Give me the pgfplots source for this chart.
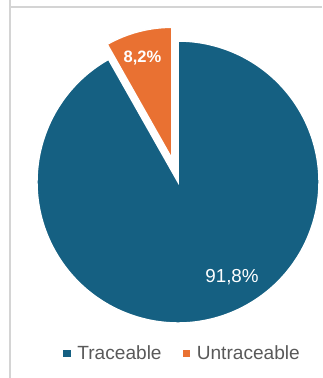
\documentclass[border=0pt]{standalone}
\usepackage{fontspec}
\setmainfont{Liberation Sans}
\usepackage{pgfplots}
\usepackage{pgfplotstable}
\pgfplotsset{compat=1.18}
\definecolor{cblue}{HTML}{156082}
\definecolor{corange}{HTML}{E97132}
\definecolor{ctext}{HTML}{595959}
\definecolor{cgrid}{HTML}{D4D4D4}
\pgfplotstableread{
label value
Traceable 91.8
Untraceable 8.2
}\pietable
\begin{document}
\begin{tikzpicture}
\pgfplotstablegetelem{0}{value}\of\pietable \let\vA\pgfplotsretval
\pgfplotstablegetelem{1}{value}\of\pietable \let\vB\pgfplotsretval
\pgfmathsetmacro{\angB}{360*\vB/(\vA+\vB)}
\pgfmathsetmacro{\endB}{90+\angB}
\begin{axis}[scale only axis, width=322pt, height=378pt,
  xmin=0, xmax=322, ymin=0, ymax=378, hide axis, clip=false,
  /pgf/number format/assume math mode=true,
  legend columns=2,
  legend style={draw=none, fill=none, font=\fontsize{19.1}{22}\selectfont, text=ctext,
    at={(axis cs:63,25)}, anchor=west, inner sep=0pt},
  legend image code/.code={\fill[#1] (0pt,-3.25pt) rectangle (6.5pt,3.25pt); \path[draw=none, fill=none] (0pt,0pt) -- (12pt,0pt);}]
\draw[cgrid, line width=2pt] (axis cs:10,0) -- (axis cs:10,378);
\draw[cgrid, line width=2pt] (axis cs:10,371) -- (axis cs:322,371);
\filldraw[fill=cblue, draw=white, line width=1.5pt] (axis cs:178,196) -- ++(\endB:141pt) arc[start angle=\endB, end angle=450, radius=141pt] -- cycle;
\filldraw[fill=corange, draw=white, line width=1.5pt] (axis cs:171.76,219.7) -- ++(90:131pt) arc[start angle=90, end angle=\endB, radius=131pt] -- cycle;
\node[anchor=base, text=white, font=\fontsize{18.8}{22}\selectfont] at (axis cs:232,95) {\pgfmathprintnumber[fixed, precision=1, use comma, assume math mode=true]{\vA}\%};
\node[anchor=base, text=white, font=\bfseries\fontsize{16.5}{20}\selectfont] at (axis cs:142.5,315) {\pgfmathprintnumber[fixed, precision=1, use comma, assume math mode=true]{\vB}\%};
\addlegendimage{cblue}
\addlegendentry{Traceable\hspace*{19pt}}
\addlegendimage{corange}
\addlegendentry{Untraceable}
\end{axis}
\pgfresetboundingbox
\useasboundingbox (0,0) rectangle (322pt,378pt);
\end{tikzpicture}
\end{document}
